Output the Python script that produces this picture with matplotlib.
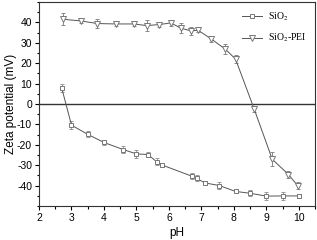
import matplotlib
matplotlib.use("Agg")
import matplotlib.pyplot as plt
from matplotlib.ticker import MultipleLocator
from matplotlib.lines import Line2D

# SiO2 zeta potential vs pH
ph_sio2 = [2.7, 3.0, 3.5, 4.0, 4.6, 5.0, 5.35, 5.62, 5.8, 6.7, 6.85, 7.1, 7.55, 8.05, 8.5, 9.0, 9.5, 10.0]
zeta_sio2 = [7.8, -10.4, -14.9, -18.9, -22.4, -24.5, -24.8, -28.3, -30.0, -35.4, -36.4, -38.7, -40.0, -42.9, -43.8, -45.2, -45.1, -45.1]
err_sio2 = [2.0, 1.8, 1.5, 1.0, 1.8, 1.8, 1.2, 1.8, 1.0, 1.5, 1.5, 1.0, 1.5, 1.0, 1.5, 2.0, 1.8, 1.0]

# SiO2-PEI zeta potential vs pH
ph_pei = [2.73, 3.28, 3.8, 4.36, 4.92, 5.31, 5.7, 6.06, 6.37, 6.68, 6.9, 7.29, 7.74, 8.05, 8.62, 9.18, 9.68, 9.96]
zeta_pei = [41.5, 40.7, 39.4, 39.2, 39.2, 38.4, 38.9, 39.7, 37.1, 35.8, 36.1, 32.0, 26.8, 22.0, -2.3, -27.1, -34.6, -40.0]
err_pei = [3.0, 1.2, 2.0, 0.8, 1.0, 2.5, 1.0, 1.5, 2.5, 2.0, 1.0, 1.5, 2.5, 2.0, 1.5, 3.5, 1.5, 1.5]

plt.rcParams['font.family'] = ['Liberation Sans', 'DejaVu Sans']
plt.rcParams['axes.unicode_minus'] = False
plt.rcParams['mathtext.fontset'] = 'stix'

fig = plt.figure(figsize=(3.17, 2.4), dpi=100, facecolor='white')
ax = fig.add_axes([0.123, 0.142, 0.871, 0.85])

lc = '#555555'
ax.axhline(0, color='#333333', lw=1.0, zorder=1)
ax.errorbar(ph_sio2, zeta_sio2, yerr=err_sio2, color=lc, lw=0.7, marker='s', ms=3.5,
            mfc='white', mec='#777777', mew=0.7, ecolor='#999999', elinewidth=0.7,
            capsize=1.5, capthick=0.7, zorder=3)
ax.errorbar(ph_pei, zeta_pei, yerr=err_pei, color=lc, lw=0.7, marker='v', ms=4,
            mfc='white', mec='#777777', mew=0.7, ecolor='#888888', elinewidth=0.7,
            capsize=1.5, capthick=0.7, zorder=3)

ax.set_xlim(2, 10.5)
ax.set_ylim(-50, 50)
ax.xaxis.set_major_locator(MultipleLocator(1))
ax.xaxis.set_minor_locator(MultipleLocator(0.5))
ax.yaxis.set_minor_locator(MultipleLocator(5))
ax.set_yticks([-40, -30, -20, -10, 0, 10, 20, 30, 40])
ax.tick_params(which='both', direction='out', top=False, right=False, labelsize=7.5, width=0.8, pad=2)
ax.tick_params(which='major', length=3)
ax.tick_params(which='minor', length=1.8)
for s in ax.spines.values():
    s.set_linewidth(0.8)
    s.set_color('#333333')

ax.set_xlabel('pH', fontsize=8.5, labelpad=3)
ax.set_ylabel('Zeta potential (mV)', fontsize=8.5, labelpad=0)

handles = [
    Line2D([], [], color=lc, lw=0.7, marker='s', ms=3.5, mfc='white', mec='#777777', mew=0.7),
    Line2D([], [], color=lc, lw=0.7, marker='v', ms=4, mfc='white', mec='#777777', mew=0.7),
]
ax.legend(handles, ['SiO$_2$', 'SiO$_2$-PEI'], loc='upper right', frameon=False,
          prop={'family': 'Liberation Serif', 'size': 7}, handlelength=2.0,
          borderaxespad=0.5, labelspacing=0.9, handletextpad=0.6)

fig.savefig('out.png', dpi=100, facecolor='white')
